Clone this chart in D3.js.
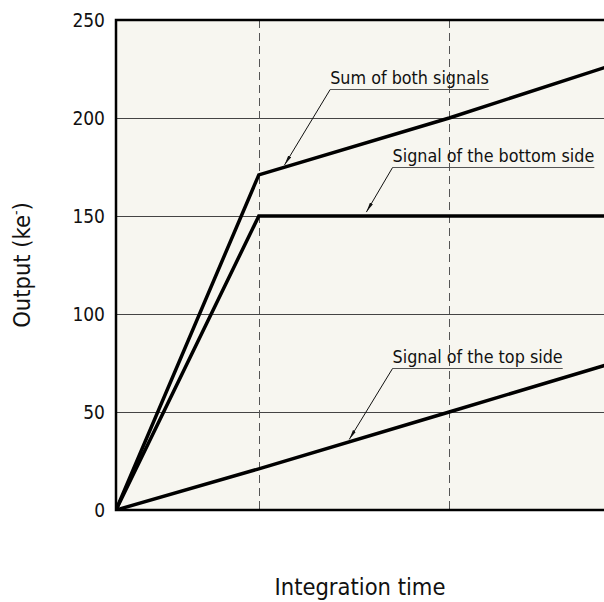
<!DOCTYPE html>
<html>
<head>
<meta charset="utf-8">
<script src="https://cdn.jsdelivr.net/npm/d3@7"></script>
<style>
  body { margin: 0; background: #fff; }
  svg text { font-family: "DejaVu Sans Condensed", "DejaVu Sans", sans-serif; font-stretch: condensed; fill: #111; }
</style>
</head>
<body>
<div id="chart"></div>
<script>
// 数据：时间点与三条信号
const times = [0, 3, 7, 10.3];
const sumSignal = [0, 171, 200, 226];
const bottomSignal = [0, 150, 150, 150];
const topSignal = [0, 21, 50, 74];
const yTicks = [0, 50, 100, 150, 200, 250];
const markerTimes = [3, 7];

// 标注：箭头尖端和下划线起点（数据坐标）
const labelTexts = ['Sum of both signals', 'Signal of the bottom side', 'Signal of the top side'];
const labelTips = [[3.54, 176], [5.26, 152], [4.9, 36]];
const labelAnchors = [[4.5, 215], [5.81, 175], [5.81, 72.5]];

const W = 604, H = 602;
const margin = { top: 20, left: 116, bottom: 92 };

const svg = d3.select('#chart').append('svg').attr('width', W).attr('height', H);

// 比例尺
const x = d3.scaleLinear().domain([0, 10]).range([margin.left, 592]);
const y = d3.scaleLinear().domain([0, 250]).range([H - margin.bottom, margin.top]);

const right = W + 4;

svg.append('defs').append('clipPath').attr('id', 'plot-clip')
  .append('rect').attr('x', margin.left).attr('y', margin.top)
  .attr('width', right - margin.left).attr('height', y(0) - margin.top);

svg.append('marker').attr('id', 'arrow').attr('viewBox', '0 0 10 4')
  .attr('refX', 10).attr('refY', 2).attr('markerWidth', 10).attr('markerHeight', 4)
  .attr('markerUnits', 'userSpaceOnUse').attr('orient', 'auto')
  .append('path').attr('d', 'M0,0.3 L10,2 L0,3.7 Z').attr('fill', '#111');

// 背景
svg.append('rect').attr('x', margin.left).attr('y', margin.top)
  .attr('width', right - margin.left).attr('height', y(0) - margin.top)
  .attr('fill', '#f7f6f0');

// 水平网格线
svg.append('g').selectAll('line').data(yTicks.filter(d => d > 0 && d < 250)).enter()
  .append('line')
  .attr('x1', margin.left).attr('x2', right)
  .attr('y1', d => Math.round(y(d)) + 0.5).attr('y2', d => Math.round(y(d)) + 0.5)
  .attr('stroke', '#444').attr('stroke-width', 1);

// 竖直虚线
svg.append('g').selectAll('line').data(markerTimes).enter()
  .append('line')
  .attr('x1', d => Math.round(x(d)) + 0.5).attr('x2', d => Math.round(x(d)) + 0.5)
  .attr('y1', margin.top).attr('y2', y(0))
  .attr('stroke', '#555').attr('stroke-width', 1).attr('stroke-dasharray', '8,5');

// 边框（左、上、下）
svg.append('path')
  .attr('d', `M${right},${margin.top} H${margin.left} V${y(0)} H${right}`)
  .attr('fill', 'none').attr('stroke', '#000').attr('stroke-width', 2.5);

// 信号曲线
const line = d3.line().x((d, i) => x(times[i])).y(d => y(d));
svg.append('g').attr('clip-path', 'url(#plot-clip)')
  .selectAll('path').data([sumSignal, bottomSignal, topSignal]).enter()
  .append('path')
  .attr('d', line)
  .attr('fill', 'none').attr('stroke', '#000').attr('stroke-width', 3.5)
  .attr('stroke-linejoin', 'miter');

// y轴刻度
const yAxis = d3.axisLeft(y).tickValues(yTicks).tickSize(0).tickPadding(11);
svg.append('g').attr('transform', `translate(${margin.left},0)`)
  .call(yAxis)
  .call(g => g.select('.domain').remove())
  .selectAll('text').style('font-size', '19px').attr('fill', '#111');

// 标注
const ann = svg.append('g').selectAll('g').data(labelTexts).enter().append('g');
ann.append('text')
  .attr('x', (d, i) => x(labelAnchors[i][0]))
  .attr('y', (d, i) => y(labelAnchors[i][1]) - 5)
  .style('font-size', '17.8px')
  .text(d => d);
ann.each(function (d, i) {
  const g = d3.select(this);
  const len = g.select('text').node().getComputedTextLength();
  const ax = x(labelAnchors[i][0]), ay = Math.round(y(labelAnchors[i][1])) + 0.5;
  g.append('line').attr('x1', ax).attr('x2', ax + len).attr('y1', ay).attr('y2', ay)
    .attr('stroke', '#555').attr('stroke-width', 1);
  g.append('line').attr('x1', ax).attr('y1', ay)
    .attr('x2', x(labelTips[i][0])).attr('y2', y(labelTips[i][1]))
    .attr('stroke', '#111').attr('stroke-width', 1).attr('marker-end', 'url(#arrow)');
});

// 轴标题
svg.append('text')
  .attr('x', (margin.left + W) / 2).attr('y', 595)
  .attr('text-anchor', 'middle').style('font-size', '23.5px')
  .text('Integration time');

const yt = svg.append('text')
  .attr('transform', `translate(30,${(margin.top + y(0)) / 2}) rotate(-90)`)
  .attr('text-anchor', 'middle').style('font-size', '23.5px');
yt.append('tspan').text('Output (ke');
yt.append('tspan').attr('dy', -9).style('font-size', '14px').text('-');
yt.append('tspan').attr('dy', 9).text(')');
</script>
</body>
</html>
